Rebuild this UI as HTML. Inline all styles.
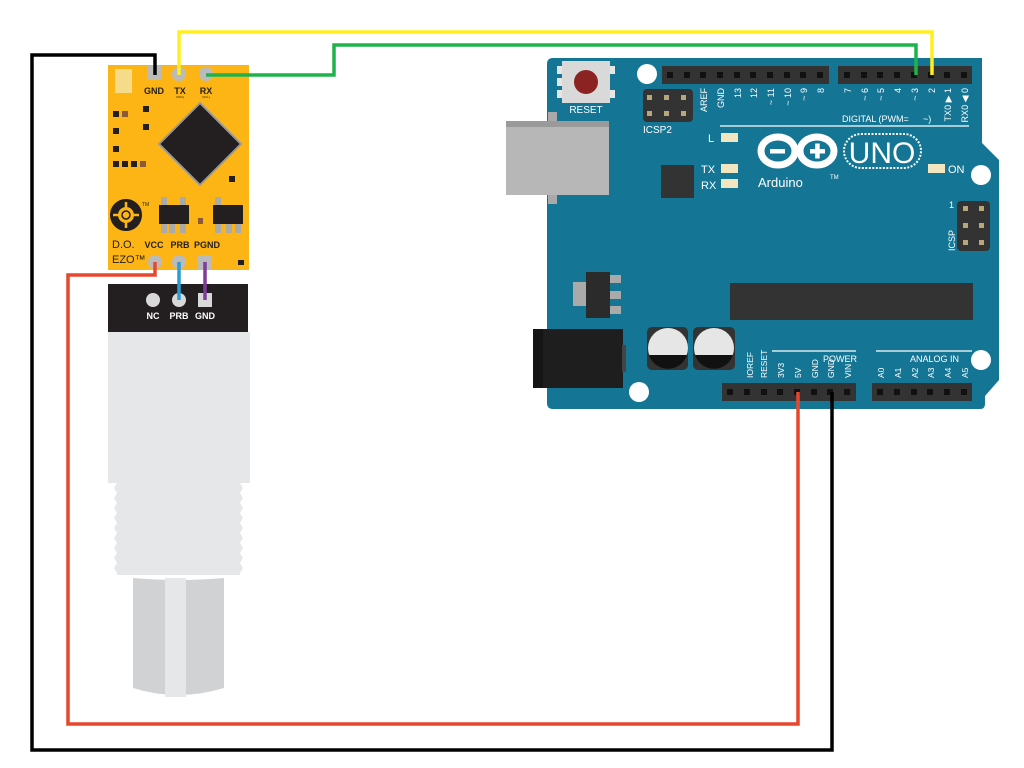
<!DOCTYPE html>
<html><head><meta charset="utf-8"><style>
html,body{margin:0;padding:0;background:#fff;width:1024px;height:768px;overflow:hidden}
text{font-family:"Liberation Sans",sans-serif}
</style></head><body>
<svg width="1024" height="768" viewBox="0 0 1024 768" xmlns="http://www.w3.org/2000/svg">
<!-- Arduino board -->
<path d="M553,58 H982 V143 L999,160 V380 L985,396 V404 Q985,409 980,409 H553 Q547,409 547,403 V64 Q547,58 553,58 Z" fill="#147595"/>
<!-- USB -->
<rect x="548" y="112" width="9" height="92" fill="#a9a9a9"/>
<rect x="506" y="121" width="103" height="74" fill="#b7b7b7"/>
<rect x="506" y="121" width="103" height="6" fill="#9a9a9a"/>
<!-- reset -->
<rect x="557" y="66" width="6" height="8" fill="#e5e5e5"/><rect x="557" y="78" width="6" height="8" fill="#e5e5e5"/><rect x="557" y="90" width="6" height="8" fill="#e5e5e5"/>
<rect x="609" y="66" width="6" height="8" fill="#e5e5e5"/><rect x="609" y="90" width="6" height="8" fill="#e5e5e5"/>
<rect x="562" y="61" width="48" height="42" fill="#d9d9d9"/>
<circle cx="586" cy="82" r="12" fill="#8b2323"/>
<text x="586" y="113" fill="#fff" font-size="10" text-anchor="middle">RESET</text>
<!-- mounting holes -->
<circle cx="647" cy="74" r="10" fill="#fff"/>
<circle cx="981" cy="175" r="10" fill="#fff"/>
<circle cx="981" cy="360" r="10" fill="#fff"/>
<circle cx="639" cy="392" r="10" fill="#fff"/>
<!-- ICSP2 -->
<rect x="643" y="89" width="50" height="33" rx="4" fill="#333"/>
<g fill="#b8a77a"><rect x="647" y="95" width="5" height="5"/><rect x="664" y="95" width="5" height="5"/><rect x="681" y="95" width="5" height="5"/><rect x="647" y="111" width="5" height="5"/><rect x="664" y="111" width="5" height="5"/><rect x="681" y="111" width="5" height="5"/></g>
<text x="643" y="133" fill="#fff" font-size="10">ICSP2</text>
<!-- top headers -->
<rect x="662" y="66" width="167" height="18" fill="#333"/>
<rect x="838" y="66" width="134" height="18" fill="#333"/>
<g fill="#111">
<rect x="667" y="72" width="6" height="6"/><rect x="684" y="72" width="6" height="6"/><rect x="700" y="72" width="6" height="6"/><rect x="717" y="72" width="6" height="6"/><rect x="734" y="72" width="6" height="6"/><rect x="750" y="72" width="6" height="6"/><rect x="767" y="72" width="6" height="6"/><rect x="784" y="72" width="6" height="6"/><rect x="800" y="72" width="6" height="6"/><rect x="817" y="72" width="6" height="6"/>
<rect x="844" y="72" width="6" height="6"/><rect x="861" y="72" width="6" height="6"/><rect x="877" y="72" width="6" height="6"/><rect x="894" y="72" width="6" height="6"/><rect x="911" y="72" width="6" height="6"/><rect x="928" y="72" width="6" height="6"/><rect x="944" y="72" width="6" height="6"/><rect x="961" y="72" width="6" height="6"/>
</g>
<g fill="#fff" font-size="9" text-anchor="end">
<text transform="translate(707,88) rotate(-90)">AREF</text>
<text transform="translate(724,88) rotate(-90)">GND</text>
<text transform="translate(741,88) rotate(-90)">13</text>
<text transform="translate(757,88) rotate(-90)">12</text>
<text transform="translate(774,88) rotate(-90)">~ 11</text>
<text transform="translate(791,88) rotate(-90)">~ 10</text>
<text transform="translate(807,88) rotate(-90)">~ 9</text>
<text transform="translate(824,88) rotate(-90)">8</text>
<text transform="translate(851,88) rotate(-90)">7</text>
<text transform="translate(868,88) rotate(-90)">~ 6</text>
<text transform="translate(884,88) rotate(-90)">~ 5</text>
<text transform="translate(901,88) rotate(-90)">4</text>
<text transform="translate(918,88) rotate(-90)">~ 3</text>
<text transform="translate(935,88) rotate(-90)">2</text>
<text transform="translate(951,88) rotate(-90)">TX0 ▶ 1</text>
<text transform="translate(968,88) rotate(-90)">RX0 ◀ 0</text>
</g>
<text x="842" y="122" fill="#fff" font-size="9">DIGITAL (PWM=</text>
<text x="923" y="122" fill="#fff" font-size="9">~)</text>
<line x1="720" y1="126" x2="969" y2="126" stroke="#fff" stroke-width="1.2"/>
<!-- LEDs -->
<g fill="#f2e6c0"><rect x="721" y="133" width="17" height="9"/><rect x="721" y="164" width="17" height="9"/><rect x="721" y="179" width="17" height="9"/><rect x="928" y="164" width="17" height="9"/></g>
<text x="708" y="142" fill="#fff" font-size="11">L</text>
<text x="701" y="173" fill="#fff" font-size="11">TX</text>
<text x="701" y="189" fill="#fff" font-size="11">RX</text>
<text x="948" y="173" fill="#fff" font-size="11">ON</text>
<rect x="661" y="165" width="33" height="33" fill="#333"/>
<!-- Arduino logo -->
<g fill="none" stroke="#fff" stroke-width="7">
<ellipse cx="778" cy="151" rx="17" ry="14"/><ellipse cx="817" cy="151" rx="17" ry="14"/>
</g>
<rect x="770" y="149" width="15" height="4.5" fill="#fff"/>
<rect x="810" y="149" width="15" height="4.5" fill="#fff"/><rect x="815.2" y="143.5" width="4.5" height="15" fill="#fff"/>
<text x="758" y="187" fill="#fff" font-size="13">Arduino</text>
<text x="830" y="179" fill="#fff" font-size="6">TM</text>
<rect x="844" y="134" width="77" height="34" rx="17" fill="none" stroke="#fff" stroke-width="2" stroke-dasharray="2,1.5"/>
<text x="882" y="163" fill="#fff" font-size="30" text-anchor="middle">UNO</text>
<!-- ICSP -->
<rect x="957" y="201" width="33" height="50" rx="4" fill="#333"/>
<g fill="#b8a77a"><rect x="963" y="206" width="5" height="5"/><rect x="979" y="206" width="5" height="5"/><rect x="963" y="223" width="5" height="5"/><rect x="979" y="223" width="5" height="5"/><rect x="963" y="240" width="5" height="5"/><rect x="979" y="240" width="5" height="5"/></g>
<text x="949" y="208" fill="#fff" font-size="9">1</text>
<text transform="translate(955,251) rotate(-90)" fill="#fff" font-size="9">ICSP</text>
<!-- chip -->
<rect x="730" y="283" width="243" height="37" fill="#333"/>
<!-- regulator -->
<rect x="573" y="282" width="14" height="24" fill="#aaa"/>
<rect x="609" y="275" width="12" height="8" fill="#aaa"/><rect x="609" y="291" width="12" height="8" fill="#aaa"/><rect x="609" y="306" width="12" height="8" fill="#aaa"/>
<rect x="586" y="272" width="24" height="46" fill="#2b2b2b"/>
<!-- power jack -->
<rect x="533" y="329" width="90" height="59" fill="#1e1e1e"/>
<rect x="533" y="329" width="10" height="59" fill="#151515"/>
<rect x="622" y="345" width="4" height="27" fill="#444"/>
<!-- capacitors -->
<rect x="647" y="327" width="41" height="43" rx="5" fill="#333"/>
<rect x="693" y="327" width="42" height="43" rx="5" fill="#333"/>
<circle cx="668" cy="348" r="20" fill="#e6e6e6"/><path d="M649,355 A20,20 0 0 0 687,355 Z" fill="#111"/>
<circle cx="714" cy="348" r="20" fill="#e6e6e6"/><path d="M695,355 A20,20 0 0 0 733,355 Z" fill="#111"/>
<!-- power labels -->
<line x1="772" y1="351" x2="856" y2="351" stroke="#fff" stroke-width="1.2"/>
<line x1="876" y1="351" x2="972" y2="351" stroke="#fff" stroke-width="1.2"/>
<text x="857" y="362" fill="#fff" font-size="9" text-anchor="end">POWER</text>
<text x="959" y="362" fill="#fff" font-size="9" text-anchor="end">ANALOG IN</text>
<g fill="#fff" font-size="8.5">
<text transform="translate(753,378) rotate(-90)">IOREF</text>
<text transform="translate(767,378) rotate(-90)">RESET</text>
<text transform="translate(784,378) rotate(-90)">3V3</text>
<text transform="translate(801,378) rotate(-90)">5V</text>
<text transform="translate(818,378) rotate(-90)">GND</text>
<text transform="translate(834,378) rotate(-90)">GND</text>
<text transform="translate(851,378) rotate(-90)">VIN</text>
<text transform="translate(884,378) rotate(-90)">A0</text>
<text transform="translate(901,378) rotate(-90)">A1</text>
<text transform="translate(918,378) rotate(-90)">A2</text>
<text transform="translate(934,378) rotate(-90)">A3</text>
<text transform="translate(951,378) rotate(-90)">A4</text>
<text transform="translate(968,378) rotate(-90)">A5</text>
</g>
<rect x="722" y="383" width="134" height="18" fill="#333"/>
<rect x="872" y="383" width="100" height="18" fill="#333"/>
<g fill="#111">
<rect x="727" y="389" width="6" height="6"/><rect x="744" y="389" width="6" height="6"/><rect x="761" y="389" width="6" height="6"/><rect x="777" y="389" width="6" height="6"/><rect x="794" y="389" width="6" height="6"/><rect x="811" y="389" width="6" height="6"/><rect x="827" y="389" width="6" height="6"/><rect x="844" y="389" width="6" height="6"/>
<rect x="877" y="389" width="6" height="6"/><rect x="894" y="389" width="6" height="6"/><rect x="911" y="389" width="6" height="6"/><rect x="927" y="389" width="6" height="6"/><rect x="944" y="389" width="6" height="6"/><rect x="961" y="389" width="6" height="6"/>
</g>

<!-- Probe -->
<rect x="108" y="284" width="140" height="48" fill="#231f20"/>
<rect x="108" y="332" width="142" height="151" fill="#e6e7e8"/>
<rect x="117" y="483" width="123" height="92" fill="#e6e7e8"/>
<path d="M117,483 l-3,5 3,5 -3,5 3,5 -3,5 3,5 -3,5 3,5 -3,5 3,5 -3,5 3,5 -3,5 3,5 -3,5 3,5 -3,5 3,5 z" fill="#e6e7e8"/>
<path d="M240,483 l3,5 -3,5 3,5 -3,5 3,5 -3,5 3,5 -3,5 3,5 -3,5 3,5 -3,5 3,5 -3,5 3,5 -3,5 3,5 -3,5 z" fill="#e6e7e8"/>
<path d="M133,578 Q178,582 224,578 V688 Q178,702 133,688 Z" fill="#d1d2d4"/>
<rect x="165" y="578" width="21" height="119" fill="#e6e7e8"/>
<circle cx="153" cy="300" r="7" fill="#d8d8d8"/>
<circle cx="179" cy="300" r="7" fill="#d8d8d8"/>
<rect x="198" y="293" width="14" height="14" fill="#d8d8d8"/>
<g fill="#fff" font-size="9" font-weight="bold" text-anchor="middle">
<text x="153" y="319">NC</text><text x="179" y="319">PRB</text><text x="205" y="319">GND</text></g>

<!-- EZO module -->
<rect x="108" y="65" width="141" height="205" fill="#fdb515"/>
<rect x="115" y="69" width="17" height="24" fill="#f5dc8a"/>
<rect x="147" y="66" width="14" height="14" fill="#bbb"/>
<circle cx="179" cy="74" r="7" fill="#bbb"/>
<circle cx="206" cy="74" r="7" fill="#bbb"/>
<g font-size="9" font-weight="bold" fill="#231f20" text-anchor="middle">
<text x="154" y="94">GND</text><text x="180" y="94">TX</text><text x="206" y="94">RX</text>
<text x="154" y="248">VCC</text><text x="180" y="248">PRB</text><text x="207" y="248">PGND</text></g>
<g font-size="3" fill="#231f20" text-anchor="middle"><text x="180" y="98">(SDA)</text><text x="206" y="98">(SCL)</text></g>
<text x="112" y="248" font-size="11" fill="#231f20">D.O.</text>
<text x="112" y="263" font-size="11" fill="#231f20">EZO™</text>
<g fill="#231f20">
<rect x="113" y="111" width="6" height="6"/><rect x="113" y="128" width="6" height="6"/><rect x="113" y="146" width="6" height="6"/><rect x="113" y="161" width="6" height="6"/><rect x="122" y="161" width="6" height="6"/><rect x="131" y="161" width="6" height="6"/>
<rect x="143" y="106" width="6" height="6"/><rect x="143" y="124" width="6" height="6"/><rect x="229" y="176" width="6" height="6"/><rect x="238" y="260" width="6" height="5"/>
</g>
<g fill="#8a5a3a"><rect x="122" y="111" width="6" height="6"/><rect x="140" y="161" width="6" height="6"/><rect x="198" y="218" width="5" height="6"/></g>
<g transform="translate(200,144) rotate(45)">
<rect x="-30" y="-30" width="60" height="60" fill="#999"/>
<rect x="-28" y="-28" width="56" height="56" fill="#231f20"/>
</g>
<g fill="#aaa"><rect x="161" y="197" width="6" height="10"/><rect x="180" y="197" width="6" height="10"/><rect x="169" y="223" width="6" height="10"/><rect x="180" y="223" width="6" height="10"/><rect x="161" y="223" width="6" height="10"/>
<rect x="215" y="197" width="6" height="10"/><rect x="215" y="223" width="6" height="10"/><rect x="226" y="223" width="6" height="10"/><rect x="235" y="223" width="6" height="10"/></g>
<rect x="159" y="205" width="30" height="19" fill="#231f20"/>
<rect x="213" y="205" width="30" height="19" fill="#231f20"/>
<circle cx="126" cy="215" r="12" fill="none" stroke="#231f20" stroke-width="8"/>
<circle cx="126" cy="215" r="4" fill="#fdb515" stroke="#231f20" stroke-width="1.5"/>
<g stroke="#fdb515" stroke-width="2.5"><line x1="126" y1="202" x2="126" y2="209"/><line x1="126" y1="221" x2="126" y2="228"/><line x1="113" y1="215" x2="120" y2="215"/><line x1="132" y1="215" x2="139" y2="215"/></g>
<text x="142" y="206" font-size="5" fill="#231f20">TM</text>
<circle cx="155" cy="262" r="7" fill="#bbb"/>
<circle cx="179" cy="262" r="7" fill="#bbb"/>
<rect x="198" y="255" width="14" height="14" fill="#bbb"/>

<!-- wires -->
<g fill="none" stroke-width="3.5" stroke-linejoin="miter">
<path d="M179,300 V262" stroke="#2b9bd6"/>
<path d="M205,300 V262" stroke="#7d3c98"/>
<path d="M155,75 V55 H32 V750 H832 V392" stroke="#000"/>
<path d="M155,262 V275 H68 V724 H798 V392" stroke="#e8462f"/>
<path d="M179,75 V32 H932 V75" stroke="#ffef1e"/>
<path d="M206,75 H334 V45 H916 V75" stroke="#1eb34a"/>
</g>
</svg>
</body></html>
